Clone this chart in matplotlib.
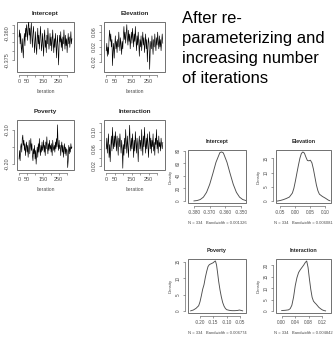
import matplotlib
matplotlib.use('Agg')
import matplotlib.pyplot as plt
import numpy as np
from matplotlib.patches import Rectangle

plt.rcParams['font.family'] = ['Liberation Sans', 'DejaVu Sans']

# ---- trace samples (thinned) ----
intercept_trace = [
    -0.362, -0.358, -0.366, -0.360, -0.368, -0.371, -0.363, -0.369, -0.374, -0.365, -0.360, -0.367, -0.357, -0.362, -0.355,
    -0.359, -0.364, -0.356, -0.353, -0.361, -0.357, -0.366, -0.358, -0.354, -0.362, -0.368, -0.360, -0.356, -0.363, -0.371,
    -0.365, -0.359, -0.368, -0.372, -0.363, -0.357, -0.366, -0.361, -0.369, -0.364, -0.356, -0.362, -0.370, -0.366, -0.360,
    -0.367, -0.373, -0.362, -0.358, -0.368, -0.364, -0.371, -0.361, -0.366, -0.357, -0.363, -0.369, -0.365, -0.360, -0.367,
    -0.362, -0.370, -0.364, -0.358, -0.366, -0.371, -0.363, -0.368, -0.360, -0.365, -0.374, -0.366, -0.361, -0.369, -0.378,
    -0.367, -0.361, -0.365, -0.359, -0.368, -0.363, -0.370, -0.362, -0.366, -0.358, -0.364, -0.369, -0.361, -0.367, -0.363,
    -0.371, -0.365, -0.360, -0.366, -0.362, -0.368, -0.364, -0.359, -0.366, -0.363]
elevation_trace = [
    0.010, 0.030, -0.005, 0.020, 0.000, 0.045, 0.065, 0.035, 0.055, 0.020, 0.040, -0.030, 0.010, 0.030, -0.010,
    0.025, 0.050, 0.015, 0.035, 0.005, 0.040, 0.020, 0.060, 0.030, 0.010, 0.045, 0.025, 0.000, 0.035, 0.015,
    0.050, 0.075, 0.040, 0.060, 0.030, 0.055, 0.080, 0.045, 0.025, 0.065, 0.035, 0.055, 0.015, 0.040, 0.060,
    0.030, 0.070, 0.045, 0.020, 0.055, 0.035, 0.075, 0.040, 0.010, 0.050, 0.025, 0.060, 0.030, -0.005, 0.040,
    0.020, 0.050, 0.010, 0.035, 0.060, 0.025, 0.045, 0.005, 0.030, 0.055, 0.015, 0.040, -0.020, 0.020, 0.045,
    0.030, -0.040, 0.010, 0.035, 0.015, 0.050, 0.025, 0.000, 0.040, 0.020, 0.055, 0.030, 0.010, 0.045, 0.025,
    0.060, 0.035, 0.015, 0.050, 0.020, 0.040, 0.010, 0.035, 0.055, 0.030]
poverty_trace = [
    -0.185, -0.160, -0.190, -0.150, -0.140, -0.165, -0.125, -0.115, -0.145, -0.130, -0.160, -0.140, -0.175, -0.150, -0.135,
    -0.165, -0.145, -0.180, -0.155, -0.130, -0.170, -0.150, -0.125, -0.160, -0.140, -0.175, -0.190, -0.155, -0.170, -0.145,
    -0.185, -0.160, -0.200, -0.170, -0.150, -0.180, -0.140, -0.165, -0.125, -0.155, -0.175, -0.145, -0.165, -0.135, -0.160,
    -0.150, -0.130, -0.165, -0.145, -0.175, -0.135, -0.155, -0.120, -0.150, -0.170, -0.140, -0.160, -0.130, -0.155, -0.145,
    -0.165, -0.140, -0.175, -0.130, -0.150, -0.160, -0.145, -0.165, -0.135, -0.155, -0.125, -0.150, -0.085, -0.140, -0.160,
    -0.130, -0.155, -0.145, -0.175, -0.150, -0.135, -0.165, -0.145, -0.180, -0.155, -0.140, -0.170, -0.150, -0.175, -0.155,
    -0.160, -0.210, -0.190, -0.145, -0.170, -0.150, -0.165, -0.140, -0.155, -0.150]
interaction_trace = [
    0.060, 0.085, 0.050, 0.075, 0.095, 0.040, 0.070, 0.030, 0.065, 0.090, 0.055, 0.110, 0.075, 0.060, 0.090,
    0.065, 0.100, 0.080, 0.055, 0.090, 0.070, 0.045, 0.085, 0.065, 0.095, 0.075, 0.050, 0.080, 0.060, 0.015,
    0.070, 0.045, 0.085, 0.060, 0.105, 0.075, 0.050, 0.090, 0.065, 0.040, 0.080, 0.115, 0.070, 0.055, 0.085,
    0.060, 0.095, 0.070, 0.040, 0.080, 0.055, 0.100, 0.075, 0.050, 0.085, 0.065, 0.030, 0.075, 0.090, 0.060,
    0.080, 0.055, 0.105, 0.070, 0.045, 0.090, 0.065, 0.110, 0.075, 0.050, 0.085, 0.060, 0.095, 0.070, 0.040,
    0.075, 0.100, 0.060, 0.085, 0.050, 0.080, 0.065, 0.095, 0.055, 0.075, 0.045, 0.085, 0.070, 0.105, 0.060,
    0.080, 0.050, 0.090, 0.065, 0.075, 0.055, 0.085, 0.070, 0.060, 0.075]

n_iter = 334

# ---- density curves ----
intercept_dx = [-0.380, -0.378, -0.376, -0.374, -0.372, -0.370, -0.368, -0.366, -0.364, -0.3635, -0.3625,
                -0.3615, -0.361, -0.359, -0.357, -0.355, -0.353, -0.351, -0.349, -0.347]
intercept_dy = [0.2, 0.8, 2.4, 6.2, 13.8, 26.5, 43.6, 61.6, 74.0, 77.0, 78.0,
                77.0, 74.5, 61.6, 43.6, 26.5, 13.8, 6.2, 2.4, 0.8]
elevation_dx = [-0.060, -0.050, -0.040, -0.030, -0.020, -0.010, -0.005, 0.000, 0.005, 0.010, 0.015,
                0.020, 0.025, 0.030, 0.035, 0.040, 0.045, 0.050, 0.055, 0.060, 0.065, 0.070,
                0.075, 0.080, 0.090, 0.100, 0.110, 0.115]
elevation_dy = [0.0, 0.2, 0.5, 0.9, 1.4, 2.8, 4.5, 7.0, 9.8, 12.5, 15.0,
                16.7, 17.2, 16.8, 15.4, 14.2, 14.1, 14.3, 13.4, 11.2, 8.4, 5.6,
                3.6, 2.4, 1.6, 1.0, 0.3, 0.1]
poverty_dx = [-0.235, -0.225, -0.215, -0.205, -0.200, -0.195, -0.190, -0.185, -0.180, -0.175, -0.170,
              -0.165, -0.160, -0.155, -0.150, -0.145, -0.142, -0.138, -0.134, -0.130, -0.125, -0.120,
              -0.115, -0.110, -0.105, -0.100, -0.090, -0.080, -0.070, -0.060, -0.052, -0.045, -0.040]
poverty_dy = [0.05, 0.3, 0.8, 1.6, 2.8, 4.6, 6.6, 8.0, 10.2, 12.0, 13.5,
              14.1, 14.3, 14.5, 14.7, 15.1, 15.2, 14.0, 11.6, 9.0, 6.4, 4.3,
              2.6, 1.5, 0.8, 0.4, 0.2, 0.1, 0.1, 0.15, 0.3, 0.15, 0.05]
interaction_dx = [0.000, 0.010, 0.020, 0.025, 0.030, 0.035, 0.040, 0.045, 0.050, 0.055, 0.060,
                  0.065, 0.070, 0.074, 0.078, 0.082, 0.086, 0.090, 0.094, 0.098, 0.102, 0.106,
                  0.110, 0.115, 0.120, 0.125, 0.130]
interaction_dy = [0.2, 0.3, 0.5, 1.0, 2.5, 6.0, 11.0, 14.5, 16.8, 18.0, 19.0,
                  20.0, 21.2, 21.8, 19.0, 14.0, 9.5, 6.0, 4.3, 3.6, 3.0, 2.3,
                  1.6, 1.0, 0.5, 0.2, 0.05]

bandwidths = ['0.001326', '0.006081', '0.006774', '0.004842']

W, H = 333, 337
fig = plt.figure(figsize=(W / 100, H / 100), dpi=100)
fig.patch.set_facecolor('white')


def px_axes(x0, y0, x1, y1):
    # box given in pixel coords from top-left
    return fig.add_axes([x0 / W, 1 - y1 / H, (x1 - x0) / W, (y1 - y0) / H])


def r_style(ax, xticks, xlabels, yticks, ylabels, fs):
    ax.add_patch(Rectangle((0, 0), 1, 1, transform=ax.transAxes, fill=False,
                           lw=0.6, ec='0.35', clip_on=False))
    for s in ['top', 'right']:
        ax.spines[s].set_visible(False)
    for s in ['left', 'bottom']:
        ax.spines[s].set_position(('outward', 2.5))
        ax.spines[s].set_linewidth(0.45)
        ax.spines[s].set_color('0.35')
    ax.set_xticks(xticks)
    ax.set_xticklabels(xlabels)
    ax.set_yticks(yticks)
    ax.set_yticklabels(ylabels, rotation=90, va='center')
    ax.spines['bottom'].set_bounds(xticks[0], xticks[-1])
    ax.spines['left'].set_bounds(yticks[0], yticks[-1])
    ax.tick_params(length=1.6, width=0.4, pad=1.2, labelsize=fs, colors='0.3')


# ---- trace plots ----
trace_boxes = [(17, 22, 74, 72), (104, 22, 165, 72), (17, 120, 74, 170), (104, 120, 165, 170)]
trace_data = [intercept_trace, elevation_trace, poverty_trace, interaction_trace]
trace_titles = ['Intercept', 'Elevation', 'Poverty', 'Interaction']
trace_ylims = [(-0.382, -0.3535), (-0.047, 0.087), (-0.217, -0.071), (0.011, 0.127)]
trace_yticks = [[-0.375, -0.370, -0.365, -0.360, -0.355],
                [-0.02, 0.00, 0.02, 0.04, 0.06, 0.08],
                [-0.20, -0.15, -0.10],
                [0.02, 0.04, 0.06, 0.08, 0.10, 0.12]]
trace_ylabels = [['-0.375', '', '', '-0.360', ''],
                 ['-0.02', '', '0.02', '', '0.06', ''],
                 ['-0.20', '', '-0.10'],
                 ['0.02', '', '0.06', '', '0.10', '']]
it_ticks = [0, 50, 100, 150, 200, 250, 300]
it_labels = ['0', '50', '', '150', '', '250', '']

for box, vals, title, ylim, yt, yl in zip(trace_boxes, trace_data, trace_titles,
                                          trace_ylims, trace_yticks, trace_ylabels):
    ax = px_axes(*box)
    iters = np.linspace(1, n_iter, len(vals))
    ax.plot(iters, vals, color='black', lw=0.45)
    ax.set_xlim(-12, 347)
    ax.set_ylim(*ylim)
    r_style(ax, it_ticks, it_labels, yt, yl, 4.0)
    ax.set_title(title, fontsize=4.6, fontweight='bold', pad=5, color='0.15')
    ax.set_xlabel('Iteration', fontsize=3.6, labelpad=3.0, color='0.3')

# ---- density plots ----
dens_boxes = [(188, 150, 246, 203), (276, 150, 331, 203), (188, 259, 246, 313), (276, 259, 331, 313)]
dens_x = [intercept_dx, elevation_dx, poverty_dx, interaction_dx]
dens_y = [intercept_dy, elevation_dy, poverty_dy, interaction_dy]
dens_xlims = [(-0.3838, -0.3469), (-0.0646, 0.1186), (-0.245, -0.0275), (-0.017, 0.146)]
dens_xticks = [[-0.380, -0.370, -0.360, -0.350], [-0.05, 0.00, 0.05, 0.10],
               [-0.20, -0.15, -0.10, -0.05], [0.00, 0.04, 0.08, 0.12]]
dens_xlabels = [['-0.380', '-0.370', '-0.360', '-0.350'], ['-0.05', '0.00', '0.05', '0.10'],
                ['-0.20', '-0.15', '-0.10', '-0.05'], ['0.00', '0.04', '0.08', '0.12']]
dens_yticks = [[0, 20, 40, 60, 80], [0, 5, 10, 15], [0, 5, 10, 15], [0, 5, 10, 15, 20]]

for box, xs, ys, title, xlim, xt, xl, yt, bw in zip(dens_boxes, dens_x, dens_y, trace_titles,
                                                    dens_xlims, dens_xticks, dens_xlabels,
                                                    dens_yticks, bandwidths):
    ax = px_axes(*box)
    ax.plot(xs, ys, color='0.3', lw=0.65)
    ymax = max(ys)
    ax.set_xlim(*xlim)
    ax.set_ylim(-0.04 * ymax, 1.04 * ymax)
    r_style(ax, xt, xl, yt, [str(v) for v in yt], 3.3)
    ax.set_title(title, fontsize=3.9, fontweight='bold', pad=5, color='0.15')
    ax.set_xlabel('N = 334   Bandwidth = ' + bw, fontsize=3.0, labelpad=4, color='0.3')
    ax.set_ylabel('Density', fontsize=3.1, labelpad=2, color='0.3')

# ---- slide text ----
fig.text(182 / W, 1 - 11 / H, 'After re-\nparameterizing and\nincreasing number\nof iterations',
         fontsize=11.9, ha='left', va='top', linespacing=1.42, color='black')

fig.savefig('out.png', dpi=100, facecolor='white')
